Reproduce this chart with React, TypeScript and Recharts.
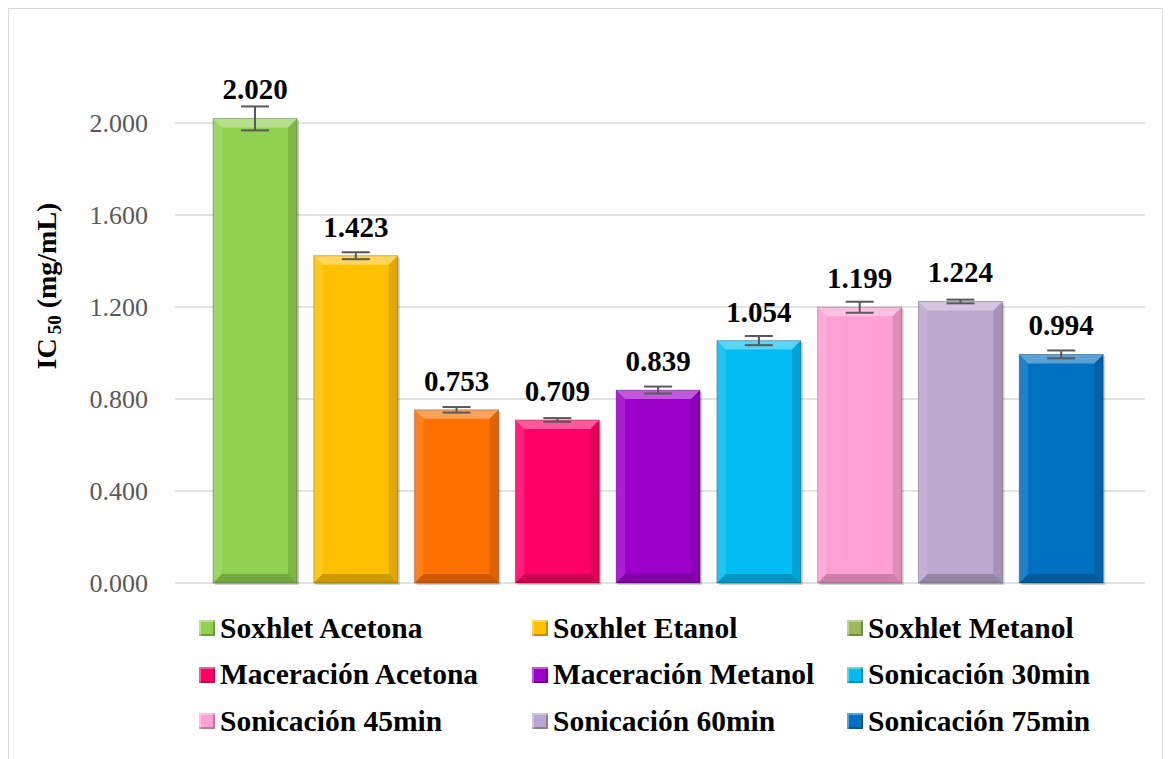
import React from 'react';
import { BarChart, Bar, XAxis, YAxis, CartesianGrid, Cell, ErrorBar, LabelList, Legend } from 'recharts';

// Datos del gráfico (IC50 en mg/mL)
const categories = [
  'Soxhlet Acetona',
  'Soxhlet Etanol',
  'Soxhlet Metanol',
  'Maceración Acetona',
  'Maceración Metanol',
  'Sonicación 30min',
  'Sonicación 45min',
  'Sonicación 60min',
  'Sonicación 75min',
];
const ic50Values = [2.02, 1.423, 0.753, 0.709, 0.839, 1.054, 1.199, 1.224, 0.994];
const errorValues = [0.052, 0.015, 0.012, 0.008, 0.015, 0.02, 0.024, 0.008, 0.017];
const yTicks = [0, 0.4, 0.8, 1.2, 1.6, 2.0];

const barColors = ['#92d050', '#ffc000', '#ff7000', '#ff0066', '#9e00cc', '#00bcf2', '#ff9fd4', '#bba8d0', '#0070c0'];
// la leyenda de "Soxhlet Metanol" conserva el color original de la serie
const legendColors = ['#92d050', '#ffc000', '#9bbb59', '#ff0066', '#9e00cc', '#00bcf2', '#ff9fd4', '#bba8d0', '#0070c0'];

const FONT = '"Liberation Serif", "Times New Roman", serif';

const chartData = categories.map((name, i) => ({
  name,
  value: ic50Values[i],
  err: errorValues[i],
}));

// Barra con efecto biselado
const BevelBar = (props: any) => {
  const { x, y, width, height, index } = props;
  if (!width || !height) return null;
  const fill = barColors[index];
  const b = Math.min(9, width / 4, height / 4);
  return (
    <g>
      <rect x={x + 2} y={y + 2} width={width} height={height} fill="#000" opacity={0.18} />
      <rect x={x} y={y} width={width} height={height} fill={fill} />
      <polygon points={`${x},${y} ${x + width},${y} ${x + width - b},${y + b} ${x + b},${y + b}`} fill="#fff" opacity={0.35} />
      <polygon points={`${x},${y} ${x + b},${y + b} ${x + b},${y + height - b} ${x},${y + height}`} fill="#fff" opacity={0.12} />
      <polygon points={`${x + width},${y} ${x + width - b},${y + b} ${x + width - b},${y + height - b} ${x + width},${y + height}`} fill="#000" opacity={0.12} />
      <polygon points={`${x},${y + height} ${x + b},${y + height - b} ${x + width - b},${y + height - b} ${x + width},${y + height}`} fill="#000" opacity={0.2} />
      <rect x={x} y={y} width={width} height={height} fill="none" stroke="#000" strokeOpacity={0.25} />
    </g>
  );
};

const renderValueLabel = (props: any) => {
  const { x, y, width, value } = props;
  return (
    <text x={x + width / 2} y={y - 19} textAnchor="middle" fontFamily={FONT} fontWeight="bold" fontSize={29} fill="#000">
      {Number(value).toFixed(3)}
    </text>
  );
};

const renderYTitle = () => (
  <text transform="translate(47, 277) rotate(-90)" textAnchor="middle" fontFamily={FONT} fontWeight="bold" fontSize={28} fill="#000">
    IC
    <tspan fontSize={19} dx={4} dy={5}>50</tspan>
    <tspan dy={-5}> (mg/mL)</tspan>
  </text>
);

const renderLegend = () => (
  <div
    style={{
      display: 'grid',
      gridTemplateColumns: '333px 315px 300px',
      gridAutoRows: '46.5px',
      paddingLeft: 190,
      fontFamily: FONT,
      fontWeight: 'bold',
      fontSize: 29.5,
      color: '#000',
    }}
  >
    {categories.map((name, i) => (
      <div key={name} style={{ display: 'flex', alignItems: 'center', whiteSpace: 'nowrap' }}>
        <span
          style={{
            display: 'inline-block',
            width: 16,
            height: 16,
            marginRight: 5,
            background: legendColors[i],
            boxShadow: 'inset 2px 2px 0 rgba(255,255,255,0.35), inset -2px -2px 0 rgba(0,0,0,0.25)',
          }}
        />
        {name}
      </div>
    ))}
  </div>
);

const App: React.FC = () => {
  return (
    <div style={{ width: 1155, height: 760, border: '1px solid #d9d9d9', boxSizing: 'border-box', background: '#fff' }}>
      <BarChart width={1153} height={758} data={chartData} margin={{ top: 22, right: 17, left: 0, bottom: 44 }}>
        <CartesianGrid vertical={false} stroke="#d9d9d9" strokeWidth={1.5} syncWithTicks />
        <XAxis dataKey="name" hide padding={{ left: 30, right: 33 }} />
        <YAxis
          width={166}
          domain={[0, 2.4]}
          ticks={yTicks}
          interval={0}
          axisLine={false}
          tickLine={false}
          tickSize={0}
          tickMargin={27}
          tickFormatter={(v: number) => v.toFixed(3)}
          tick={{ fontFamily: FONT, fontSize: 26, fill: '#595959' }}
          label={{ content: renderYTitle }}
        />
        <Legend content={renderLegend} wrapperStyle={{ left: 0, top: 596, width: 1153, height: 140 }} />
        <Bar dataKey="value" barSize={84} shape={BevelBar} isAnimationActive={false}>
          {chartData.map((d, i) => (
            <Cell key={d.name} fill={barColors[i]} />
          ))}
          <ErrorBar dataKey="err" width={14} stroke="#595959" strokeWidth={2} />
          <LabelList dataKey="value" content={renderValueLabel} />
        </Bar>
      </BarChart>
    </div>
  );
};

export default App;
